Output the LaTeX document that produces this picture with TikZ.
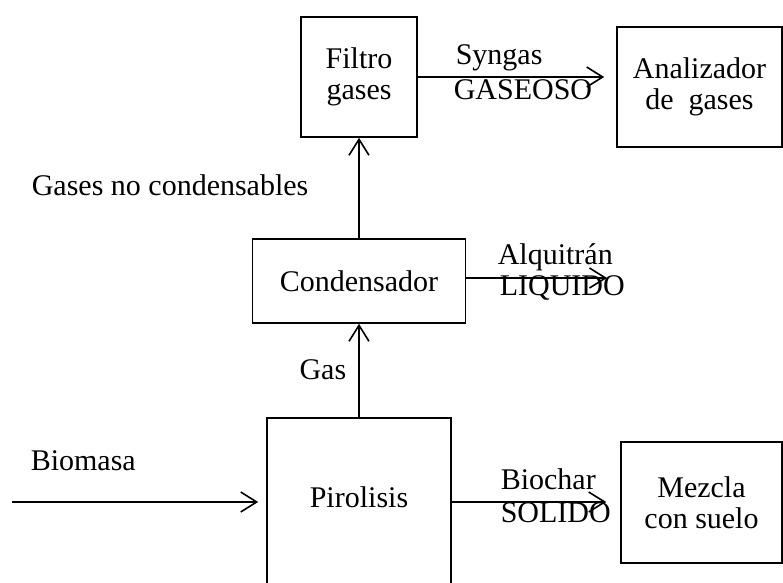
\documentclass[tikz,border=0pt]{standalone}
\usepackage{fontspec}
\setmainfont{Liberation Serif}
\usetikzlibrary{arrows.meta,positioning}

\begin{document}
\begin{tikzpicture}[
    x=0.5pt, y=-0.5pt,
    >={Straight Barb[length=8pt,width=10pt]},
    line width=0.8pt,
    font=\fontsize{15}{15.5}\selectfont,
    box/.style={draw, rectangle, align=center, inner sep=0pt},
    lbl/.style={inner sep=0pt, text height=0.7em, text depth=0.2em}
]
\useasboundingbox (0,0) rectangle (783,583);

% -- Boxes --
\node[box, minimum width=58pt, minimum height=60pt] (filtroGases) at (359,77) {Filtro\\gases};
\node[box, minimum width=82.5pt, minimum height=60pt] (analizador) at (699.5,87) {Analizador\\de~~gases};
\node[box, minimum width=106.5pt, minimum height=42pt] (condensador) at (359,281) {Condensador};
\node[box, minimum width=92pt, minimum height=89pt, text height=8pt, text depth=8pt] (pirolisis) at (359,507) {Pirolisis};
\node[box, minimum width=80.5pt, minimum height=60.5pt] (mezcla) at (701.5,502.5) {Mezcla\\con suelo};

% -- Free ends --
\coordinate (biomasaIn) at (12,502);
\coordinate (alquitranOut) at (607,278);

% -- Flows --
\draw[->] (condensador) -- (filtroGases);
\draw[->] (pirolisis) -- (condensador);
\draw[->, shorten >=6pt] (filtroGases.east) -- (filtroGases.east -| analizador.west);
\draw[->] (condensador.east |- alquitranOut) -- (alquitranOut);
\draw[->, shorten >=4pt] (biomasaIn) -- (biomasaIn -| pirolisis.west);
\draw[->, shorten >=7pt] (biomasaIn -| pirolisis.east) -- (biomasaIn -| mezcla.west);

% -- Labels --
\node[lbl, anchor=west] (syngasLbl) at (455,59.5) {Syngas};
\node[lbl, anchor=west] (gaseosoLbl) at (453,94.5) {GASEOSO};
\node[lbl, anchor=west] (noCondLbl) at (31,190.5) {Gases no condensables};
\node[lbl, anchor=west] (alquitranLbl) at (497,259) {Alquitrán};
\node[lbl, anchor=west] (liquidoLbl) at (499,290.5) {LIQUIDO};
\node[lbl, anchor=east] (gasLbl) at (347,374.5) {Gas};
\node[lbl, anchor=west] (biomasaLbl) at (30,465.5) {Biomasa};
\node[lbl, anchor=west] (biocharLbl) at (500,484.5) {Biochar};
\node[lbl, anchor=west] (solidoLbl) at (500,517.5) {SOLIDO};

\end{tikzpicture}
\end{document}
